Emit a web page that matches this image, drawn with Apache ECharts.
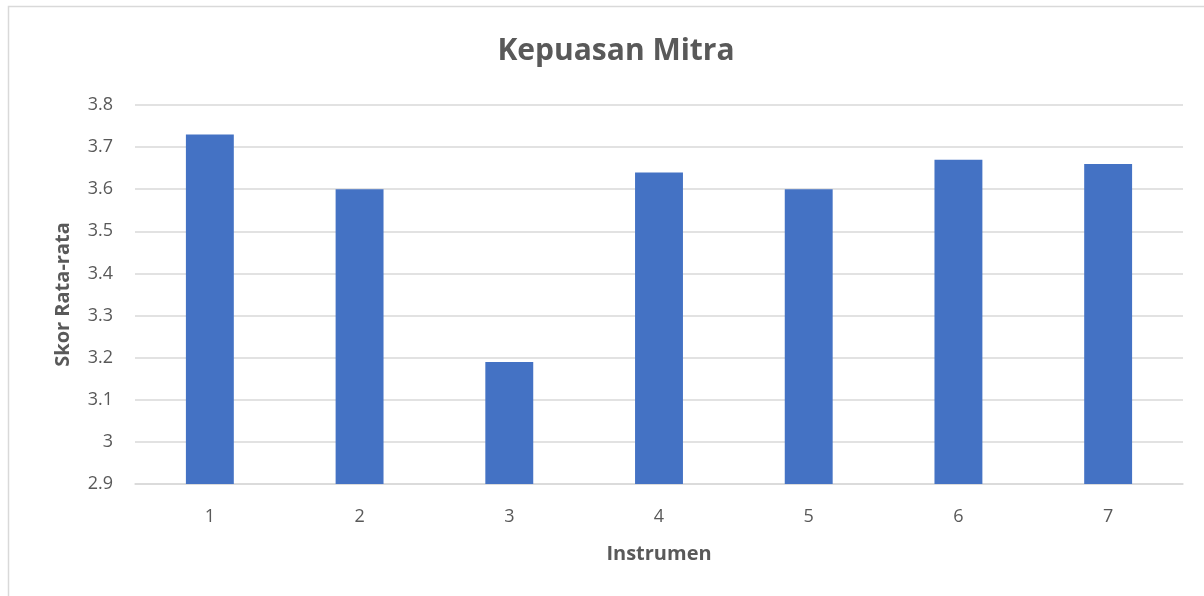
<!DOCTYPE html>
<html>
<head>
<meta charset="utf-8">
<script src="https://cdn.jsdelivr.net/npm/echarts@6/dist/echarts.min.js"></script>
<style>
html,body{margin:0;padding:0;background:#fff;}
#chart{width:1204px;height:596px;}
</style>
</head>
<body>
<div id="chart"></div>
<script>
const categories = ['1','2','3','4','5','6','7'];
const values = [3.73, 3.60, 3.19, 3.64, 3.60, 3.67, 3.66];
const yTicks = [2.9, 3.0, 3.1, 3.2, 3.3, 3.4, 3.5, 3.6, 3.7, 3.8];

const chart = echarts.init(document.getElementById('chart'));
const font = '"Open Sans", sans-serif';
chart.setOption({
  animation: false,
  backgroundColor: '#fff',
  graphic: [{
    type: 'rect',
    shape: {x: 8.5, y: 6.5, width: 1210, height: 600},
    style: {fill: 'none', stroke: '#d9d9d9', lineWidth: 1.5}
  }],
  title: {
    text: 'Kepuasan Mitra',
    left: 611,
    textAlign: 'center',
    top: 31,
    textStyle: {fontFamily: font, fontSize: 30, fontWeight: 'bold', color: '#595959'}
  },
  grid: {left: 135, right: 21, top: 105, bottom: 112},
  xAxis: {
    type: 'category',
    data: categories,
    axisLine: {show: true, lineStyle: {color: '#d9d9d9', width: 1.5}},
    axisTick: {show: false},
    axisLabel: {fontFamily: font, fontSize: 18, color: '#595959', margin: 24},
    name: 'Instrumen',
    nameLocation: 'middle',
    nameGap: 60,
    nameTextStyle: {fontFamily: font, fontSize: 20, fontWeight: 'bold', color: '#595959'}
  },
  yAxis: {
    type: 'value',
    min: 2.9,
    max: 3.8,
    interval: 0.1,
    axisLine: {show: false},
    axisTick: {show: false},
    axisLabel: {
      fontFamily: font, fontSize: 18, color: '#595959', margin: 22,
      formatter: v => {
        const r = Math.round(v * 10) / 10;
        const t = yTicks.find(x => Math.abs(x - r) < 1e-6);
        return t === undefined ? '' : String(t);
      }
    },
    splitLine: {lineStyle: {color: '#d9d9d9', width: 1.5}},
    name: 'Skor Rata-rata',
    nameLocation: 'middle',
    nameGap: 62,
    nameTextStyle: {fontFamily: font, fontSize: 20, fontWeight: 'bold', color: '#595959'}
  },
  series: [{
    type: 'bar',
    data: values,
    barWidth: '32%',
    itemStyle: {color: '#4472c4'}
  }]
});
</script>
</body>
</html>
